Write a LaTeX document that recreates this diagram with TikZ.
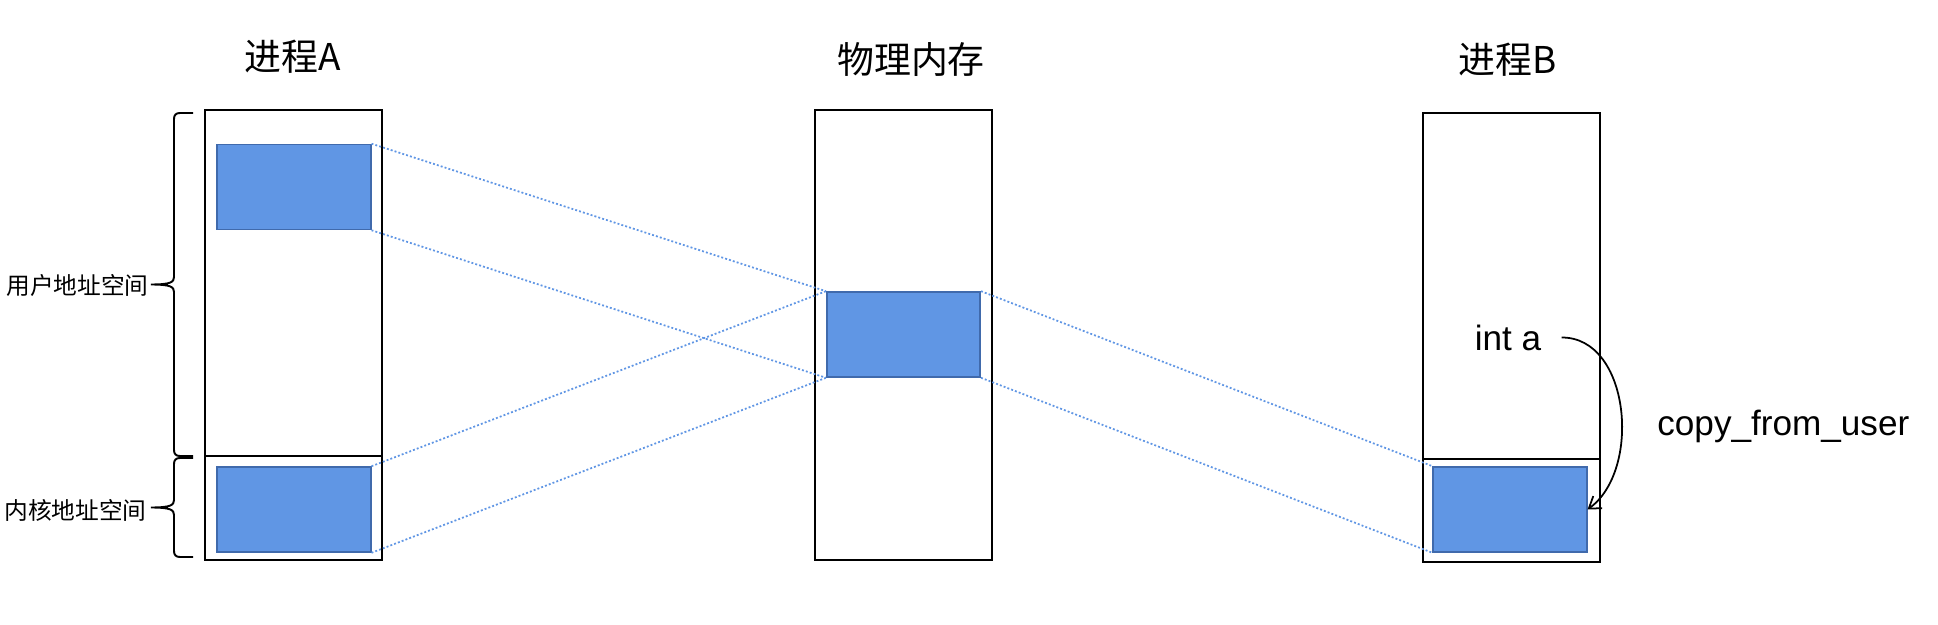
\documentclass[tikz,border=0pt]{standalone}
\usepackage{fontspec}
\setmainfont{Liberation Sans}
\newfontfamily\cjk{Noto Sans CJK SC}
\usetikzlibrary{arrows.meta}
\definecolor{pagefill}{RGB}{96,150,228}
\definecolor{pageedge}{RGB}{64,106,172}
\definecolor{mapblue}{RGB}{96,150,228}
\begin{document}
\begin{tikzpicture}[x=0.02cm,y=-0.02cm,
  mem/.style={draw,line width=1.1pt,inner sep=0pt,minimum width=3.54cm},
  page/.style={draw=pageedge,fill=pagefill,line width=0.9pt,inner sep=0pt,minimum width=3.07cm,minimum height=1.7cm},
  map/.style={draw=mapblue,line width=1pt,dash pattern=on 1.1pt off 1.2pt},
  title/.style={font=\cjk\fontsize{21pt}{25pt}\selectfont,inner sep=0pt},
  side/.style={font=\cjk\fontsize{13.5pt}{16pt}\selectfont,inner sep=0pt,anchor=east},
  code/.style={font=\fontsize{20pt}{24pt}\selectfont,inner sep=0pt}]
\useasboundingbox (0,0) rectangle (1938,625);

\node[title] (ta) at (293,57) {进程A};
\node[title] (tm) at (911,60) {物理内存};
\node[title] (tb) at (1508,60) {进程B};

\node[mem,minimum height=6.92cm] (ua) at (293.5,283) {};
\node[mem,minimum height=2.08cm] (ka) at (293.5,508) {};
\node[mem,minimum height=9cm] (m) at (903.5,335) {};
\node[mem,minimum height=6.92cm] (ub) at (1511.5,286) {};
\node[mem,minimum height=2.06cm] (kb) at (1511.5,510.5) {};

\node[page] (a1) at (294,187) {};
\node[page] (a2) at (294,509.5) {};
\node[page] (m1) at (903.5,334.5) {};
\node[page] (b1) at (1510,509.5) {};

\node[side] (lu) at (149,285) {用户地址空间};
\node[side] (lk) at (147,510) {内核地址空间};
\draw[line width=1.1pt] (193,113) -- (180,113) .. controls (176,113) and (174,115) .. (174,119) -- (174,277)
  .. controls (174,282) and (171,284.5) .. (151,284.5) .. controls (171,284.5) and (174,287) .. (174,292)
  -- (174,450) .. controls (174,454) and (176,456) .. (180,456) -- (193,456);
\draw[line width=1.1pt] (193,458) -- (180,458) .. controls (176,458) and (174,460) .. (174,464) -- (174,500)
  .. controls (174,505) and (171,507.5) .. (151,507.5) .. controls (171,507.5) and (174,510) .. (174,515)
  -- (174,551) .. controls (174,555) and (176,557) .. (180,557) -- (193,557);

\path[map] (a1.north east) -- (m1.north west);
\path[map] (a1.south east) -- (m1.south west);
\path[map] (a2.north east) -- (m1.north west);
\path[map] (a2.south east) -- (m1.south west);
\path[map] (m1.north east) -- (b1.north west);
\path[map] (m1.south east) -- (b1.south west);

\node[code,inner xsep=0.4cm] (ia) at (1508,337.5) {int a};
\node[code,anchor=base west] (cu) at (1657,435) {copy\_from\_user};
\path[draw,line width=1pt,-{Straight Barb[length=0.22cm,width=0.3cm]}] (ia.east) .. controls (1630,337) and (1642,470) .. (b1.east);
\end{tikzpicture}
\end{document}
